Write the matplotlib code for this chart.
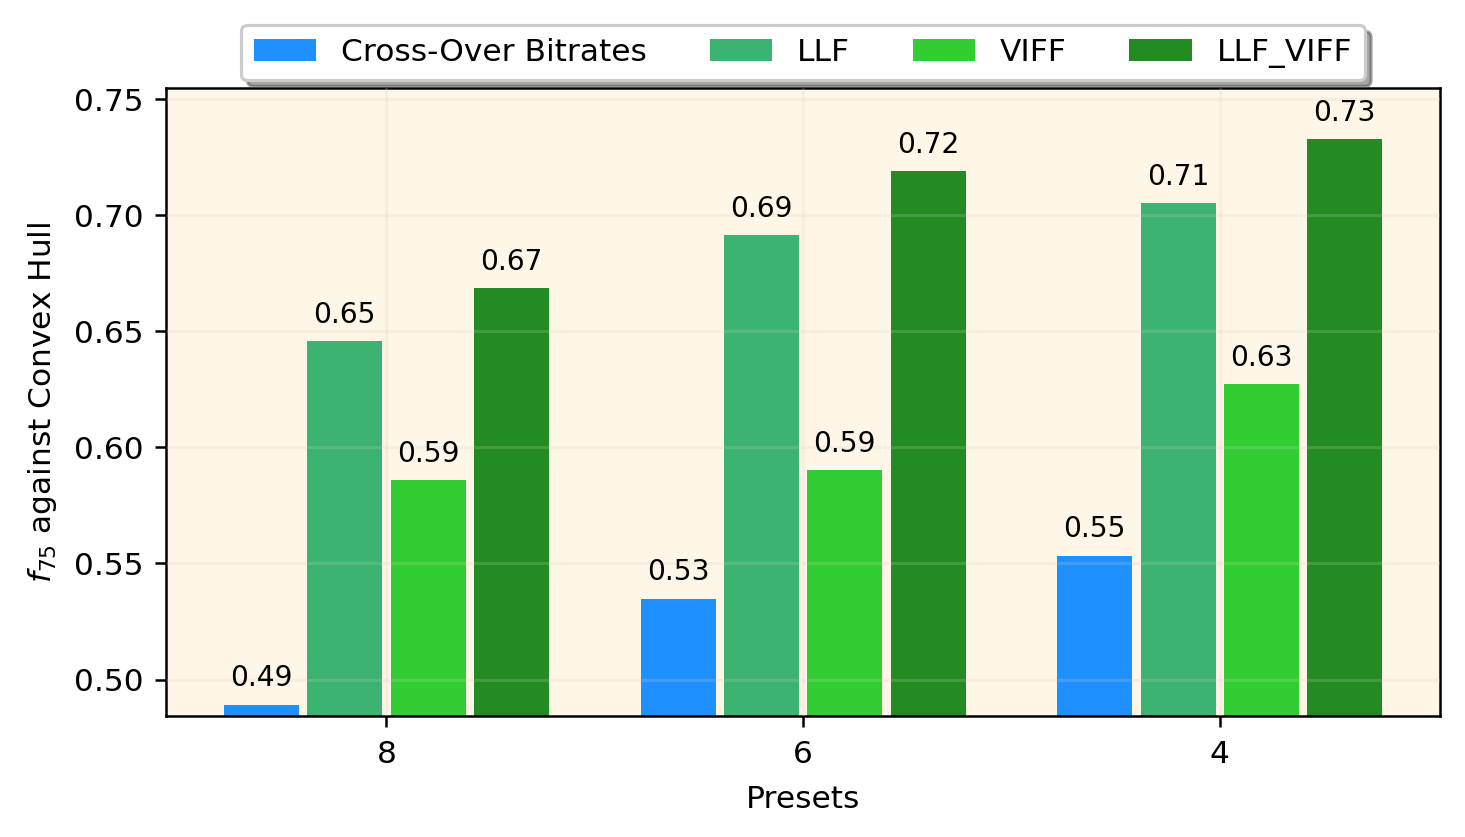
import matplotlib
matplotlib.use("Agg")
import matplotlib.pyplot as plt
import numpy as np

presets = ["8", "6", "4"]
series_names = ["Cross-Over Bitrates", "LLF", "VIFF", "LLF_VIFF"]
cross_over = [0.4892, 0.5349, 0.5534]
llf = [0.6457, 0.6914, 0.7052]
viff = [0.5858, 0.5901, 0.6272]
llf_viff = [0.6685, 0.7190, 0.7328]
colors = ["#1E90FF", "#3CB371", "#32CD32", "#228B22"]

series = [cross_over, llf, viff, llf_viff]

DPI = 225
fig = plt.figure(figsize=(1465 / DPI, 837 / DPI), dpi=DPI)
ax = fig.add_axes([0.1133, 0.1446, 0.9830 - 0.1133, 0.8949 - 0.1446])
ax.set_facecolor("#FEF6E6")

x = np.arange(len(presets))
width = 0.18
offsets = [-0.3, -0.1, 0.1, 0.3]
for vals, name, col, off in zip(series, series_names, colors, offsets):
    bars = ax.bar(x + off, vals, width, color=col, label=name, zorder=1)
    for b, v in zip(bars, vals):
        ax.annotate(f"{v:.2f}", (b.get_x() + b.get_width() / 2, v),
                    xytext=(0, 4), textcoords="offset points",
                    ha="center", va="bottom", fontsize=9)

all_vals = cross_over + llf + viff + llf_viff
ax.set_ylim(min(all_vals) * 0.99, max(all_vals) * 1.03)
ax.set_xticks(x)
ax.set_xticklabels(presets)
ax.tick_params(axis="x", pad=4.2)
ax.set_xlabel("Presets", labelpad=5)
ax.set_ylabel("$f_{75}$ against Convex Hull", labelpad=5)
ax.grid(True, color="#d8d0c0", alpha=0.2, linewidth=1.0, zorder=2)
ax.set_axisbelow(False)

ax.legend(loc="upper center", bbox_to_anchor=(0.5, 1.125), ncol=4,
          shadow=True, fancybox=True, fontsize=10, framealpha=1)

fig.savefig("out.png", dpi=DPI)
